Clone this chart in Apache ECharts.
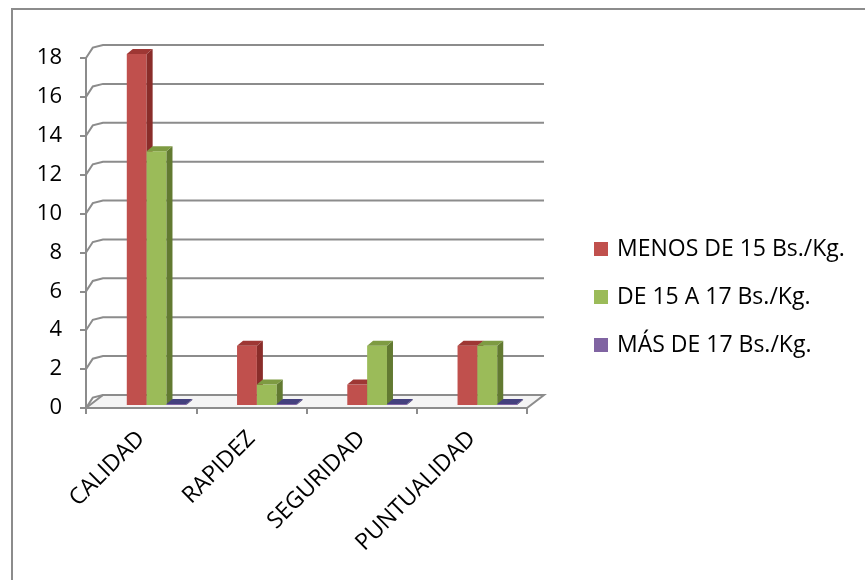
<!DOCTYPE html>
<html>
<head>
<meta charset="utf-8">
<script src="https://cdn.jsdelivr.net/npm/echarts@6/dist/echarts.min.js"></script>
<style>
  html, body { margin: 0; padding: 0; background: #fff; }
  #frame {
    position: absolute; left: 11px; top: 8px; width: 900px; height: 620px;
    border-left: 2px solid #8c8c8c; border-top: 2px solid #8c8c8c;
  }
  #chart { position: absolute; left: 0; top: 0; width: 865px; height: 580px; }
</style>
</head>
<body>
<div id="frame"></div>
<div id="chart"></div>
<script>
var categories = ['CALIDAD', 'RAPIDEZ', 'SEGURIDAD', 'PUNTUALIDAD'];
var seriesNames = ['MENOS DE 15 Bs./Kg.', 'DE 15 A 17 Bs./Kg.', 'MÁS DE 17 Bs./Kg.'];
var menos15 = [18, 3, 1, 3];
var de15a17 = [13, 1, 3, 3];
var mas17 = [0, 0, 0, 0];
var yTicks = [0, 2, 4, 6, 8, 10, 12, 14, 16, 18];

// colores estilo Excel: frente, lado, tapa
var colors = [
  { front: '#C0504D', side: '#8A2D2A', top: '#9E3734' },
  { front: '#9BBB59', side: '#627A31', top: '#7E9B42' },
  { front: '#8064A2', side: '#4E3F78', top: '#44407E' }
];

// profundidad del "3D"
var BX = 17, BY = 13;   // pared de fondo
var DX = 6, DY = 5;     // barras

function barRender(idx) {
  return function (params, api) {
    var cat = api.value(0), val = api.value(1);
    var p = api.coord([cat, val]);
    var b = api.coord([cat, 0]);
    var band = api.size([1, 0])[0];
    var w = band * 0.18;
    var x = p[0] - band * 0.13 + idx * w;
    var yTop = p[1] - 4, yBot = b[1] - 3;
    var c = colors[idx];
    var children = [];
    if (yBot - yTop > 0.5) {
      children.push({ type: 'rect', shape: { x: x, y: yTop, width: w, height: yBot - yTop }, style: { fill: c.front } });
      children.push({ type: 'polygon', shape: { points: [[x + w, yTop], [x + w + DX, yTop - DY], [x + w + DX, yBot - DY], [x + w, yBot]] }, style: { fill: c.side } });
    }
    children.push({ type: 'polygon', shape: { points: [[x, yTop], [x + DX, yTop - DY], [x + w + DX, yTop - DY], [x + w, yTop]] }, style: { fill: c.top } });
    return { type: 'group', children: children };
  };
}

function wallRender(params, api) {
  var v = api.value(1);
  var y = api.coord([0, v])[1];
  var cs = params.coordSys;
  var x0 = cs.x, x1 = cs.x + cs.width;
  var children = [];
  if (v === 0) {
    children.push({ type: 'polygon', shape: { points: [[x0, y], [x0 + BX, y - BY], [x1 + BX, y - BY], [x1, y]] },
      style: { fill: '#f4f4f4', stroke: '#8c8c8c', lineWidth: 2 } });
  }
  children.push({ type: 'polyline', shape: { points: [[x0, y], [x0 + BX * 0.4, y - BY * 0.8], [x0 + BX, y - BY], [x1 + BX, y - BY]] },
    style: { fill: null, stroke: '#8c8c8c', lineWidth: 2 } });
  return { type: 'group', children: children };
}

var font = 'Open Sans';
var chart = echarts.init(document.getElementById('chart'));

var barSeries = [menos15, de15a17, mas17].map(function (arr, i) {
  return {
    name: seriesNames[i],
    type: 'custom',
    renderItem: barRender(i),
    itemStyle: { color: colors[i].front },
    encode: { x: 0, y: 1 },
    clip: false,
    z: 3,
    data: arr.map(function (v, k) { return [k, v]; })
  };
});

chart.setOption({
  animation: false,
  backgroundColor: 'transparent',
  textStyle: { fontFamily: font },
  grid: { left: 86, right: 338, top: 58, bottom: 172 },
  legend: {
    orient: 'vertical',
    left: 594, top: 236,
    padding: 0,
    icon: 'rect',
    itemWidth: 14, itemHeight: 14,
    itemGap: 22,
    data: seriesNames,
    textStyle: { fontFamily: font, fontSize: 23, color: '#000', lineHeight: 26, padding: [0, 0, 0, 4] }
  },
  xAxis: {
    type: 'category',
    data: categories,
    axisLine: { show: true, lineStyle: { color: '#8c8c8c', width: 2 } },
    axisTick: { show: true, length: 6, lineStyle: { color: '#8c8c8c', width: 2 } },
    axisLabel: { rotate: 45, margin: 27, fontSize: 23, color: '#000', fontFamily: font },
    splitLine: { show: false }
  },
  yAxis: {
    type: 'value',
    min: 0, max: 18, interval: 2,
    axisLine: { show: true, lineStyle: { color: '#8c8c8c', width: 2 } },
    axisTick: { show: true, length: 6, lineStyle: { color: '#8c8c8c', width: 2 } },
    axisLabel: { margin: 24, fontSize: 22, color: '#000', fontFamily: font },
    splitLine: { show: false }
  },
  series: [{
    type: 'custom',
    renderItem: wallRender,
    encode: { x: 0, y: 1 },
    silent: true,
    clip: false,
    z: 1,
    data: yTicks.map(function (v) { return [0, v]; })
  }].concat(barSeries)
});
</script>
</body>
</html>
